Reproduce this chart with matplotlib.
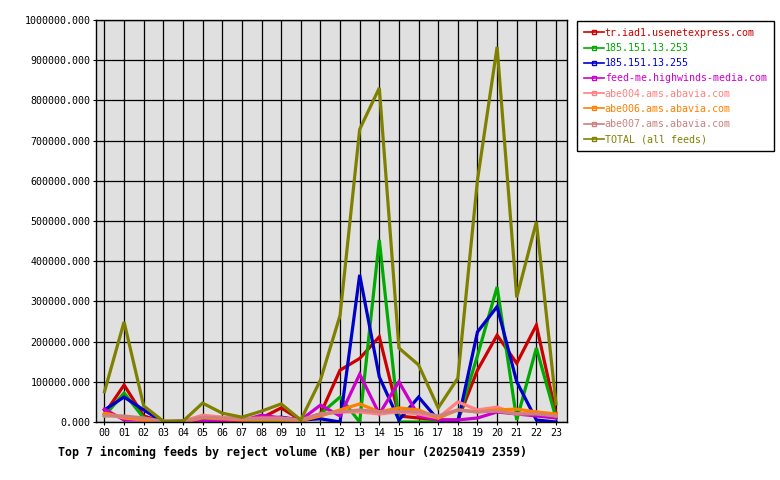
import matplotlib
matplotlib.use('Agg')
import matplotlib.pyplot as plt
from matplotlib.lines import Line2D

BG = '#e0e0e0'
MONO = 'DejaVu Sans Mono'

hours = [f'{h:02d}' for h in range(24)]

feeds = [
    'tr.iad1.usenetexpress.com',
    '185.151.13.253',
    '185.151.13.255',
    'feed-me.highwinds-media.com',
    'abe004.ams.abavia.com',
    'abe006.ams.abavia.com',
    'abe007.ams.abavia.com',
    'TOTAL (all feeds)',
]
colors = ['#cc0000', '#00aa00', '#0000cc', '#cc00cc', '#ff8080', '#ff8000', '#cc8080', '#808000']

usenetexpress = [20000, 92000, 15000, 0, 0, 5000, 5000, 3000, 10000, 35000, 5000, 20000,
                 129000, 158000, 212000, 15000, 10000, 5000, 5000, 129000, 216000, 146000, 241000, 20000]
ip_253 = [15000, 72000, 10000, 0, 0, 0, 0, 0, 2000, 3000, 2000, 20000,
          62000, 0, 453000, 0, 0, 0, 5000, 165000, 336000, 5000, 184000, 10000]
ip_255 = [30000, 62000, 30000, 0, 3000, 5000, 5000, 5000, 8000, 12000, 5000, 8000,
          0, 366000, 112000, 5000, 62000, 5000, 0, 224000, 287000, 100000, 5000, 0]
highwinds = [32000, 5000, 5000, 0, 0, 2000, 2000, 3000, 17000, 10000, 5000, 42000,
             15000, 119000, 20000, 100000, 15000, 5000, 5000, 10000, 25000, 20000, 15000, 10000]
abe004 = [20000, 10000, 5000, 2000, 2000, 17000, 12000, 8000, 10000, 10000, 5000, 20000,
          25000, 25000, 20000, 25000, 20000, 10000, 50000, 30000, 37000, 20000, 25000, 15000]
abe006 = [22000, 12000, 5000, 0, 0, 10000, 8000, 5000, 5000, 5000, 3000, 15000,
          30000, 45000, 25000, 35000, 30000, 10000, 30000, 25000, 30000, 32000, 25000, 20000]
abe007 = [15000, 15000, 10000, 2000, 2000, 12000, 10000, 8000, 8000, 8000, 5000, 20000,
          25000, 30000, 25000, 27000, 25000, 15000, 30000, 25000, 27000, 20000, 20000, 15000]
total = [75000, 249000, 40000, 2000, 2000, 47000, 22000, 12000, 27000, 45000, 5000, 104000,
         265000, 728000, 831000, 184000, 142000, 35000, 109000, 602000, 933000, 310000, 498000, 45000]

series = [usenetexpress, ip_253, ip_255, highwinds, abe004, abe006, abe007, total]

fig = plt.figure(figsize=(7.8, 4.8), dpi=100)
ax = fig.add_axes([96 / 780, 58 / 480, 471 / 780, 402 / 480])
ax.set_facecolor(BG)

x = list(range(24))
for vals, col in zip(series, colors):
    ax.plot(x, vals, color=col, linewidth=2.3, solid_joinstyle='miter')

ax.set_xlim(-0.43, 23.56)
ax.set_ylim(0, 1000000)
ax.set_xticks(x)
ax.set_xticklabels(hours, fontfamily=MONO, fontsize=7.2)
yt = list(range(0, 1000001, 100000))
ax.set_yticks(yt)
ax.set_yticklabels([f'{v:.3f}' for v in yt], fontfamily=MONO, fontsize=7.2)
ax.grid(True, color='black', linewidth=0.9)
ax.set_axisbelow(True)
ax.tick_params(length=2, width=0.8, pad=2)
for s in ax.spines.values():
    s.set_linewidth(1.0)

ax.set_xlabel('Top 7 incoming feeds by reject volume (KB) per hour (20250419 2359)',
              fontfamily=MONO, fontsize=8.4, fontweight='bold', labelpad=6,
              x=(292 - 96) / 471)

handles = [Line2D([0], [0], color=c, linewidth=1.2, marker='s', markersize=2.5,
                  markerfacecolor='none', markeredgecolor=c) for c in colors]
leg = fig.legend(handles, feeds, loc='upper left', bbox_to_anchor=(577 / 780, 1 - 21 / 480),
                 prop={'family': MONO, 'size': 7.2}, labelcolor=colors,
                 frameon=True, fancybox=False, edgecolor='black', framealpha=1,
                 handlelength=2.0, handletextpad=0.1, labelspacing=0.52,
                 borderpad=0.68, borderaxespad=0)
leg.get_frame().set_linewidth(1.0)

fig.savefig('out.png', dpi=100)
